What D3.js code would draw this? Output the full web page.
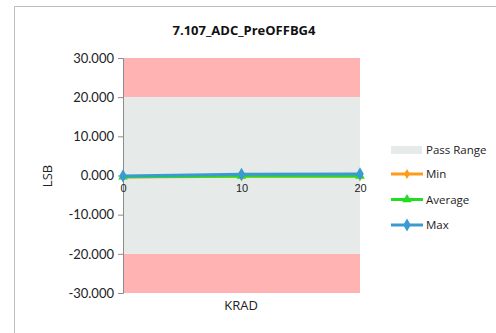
<!DOCTYPE html>
<html><head><meta charset="utf-8">
<script src="https://cdn.jsdelivr.net/npm/d3@7"></script>
<style>body{margin:0;background:#fff;}svg{display:block;font-family:"Open Sans","Liberation Sans",sans-serif;}</style>
</head><body>
<svg id="c" width="496" height="333"></svg>
<script>
const title = "7.107_ADC_PreOFFBG4";
const categories = ["0", "10", "20"];
const minValues = [-0.4, -0.2, -0.2];
const avgValues = [-0.3, -0.1, -0.1];
const maxValues = [-0.1, 0.3, 0.4];
const passRange = [-20, 20];
const failBands = [[20, 30], [-30, -20]];
const yTicks = [30, 20, 10, 0, -10, -20, -30];
const seriesNames = ["Min", "Average", "Max"];
const seriesColors = ["#FF9A1A", "#22DD22", "#3A9AD2"];

const svg = d3.select("#c");
svg.append("path").attr("d","M14.5,333 V6.5 H496").attr("fill","none").attr("stroke","#BDBDBD").attr("stroke-width",1);

const x = d3.scalePoint().domain(categories).range([123, 360]);
const y = d3.scaleLinear().domain([-30, 30]).range([293, 58]);

failBands.forEach(b => {
  svg.append("rect").attr("x",123).attr("width",237)
    .attr("y",y(b[1])).attr("height",y(b[0])-y(b[1])).attr("fill","#FFB3B3");
});
svg.append("rect").attr("x",123).attr("width",237)
  .attr("y",y(passRange[1])).attr("height",y(passRange[0])-y(passRange[1])).attr("fill","#E6EBEA");

const fmt = d3.format(".3f");
const yAxis = d3.axisLeft(y).tickValues(yTicks).tickSize(5).tickFormat(d => fmt(d).replace("\u2212","-"));
const gy = svg.append("g").attr("transform","translate(123,0)").call(yAxis);
gy.select(".domain").attr("stroke","#8C8C8C");
gy.selectAll(".tick line").attr("stroke","#8C8C8C");
gy.selectAll(".tick text").attr("font-size",13).attr("fill","#222").attr("x",-9).attr("font-family","Lato, 'Open Sans', sans-serif");

const xAxis = d3.axisBottom(x).tickSize(0);
const gx = svg.append("g").attr("transform",`translate(0,${y(0)})`).call(xAxis);
gx.select(".domain").remove();
gx.selectAll(".tick text").attr("font-size",11).attr("fill","#222").attr("dy","1.2em");

const allSeries = [minValues, avgValues, maxValues];
const line = d3.line().x((d,i)=>x(categories[i])).y(d=>y(d));
allSeries.forEach((vals, si) => {
  svg.append("path").datum(vals).attr("d",line).attr("fill","none")
    .attr("stroke",seriesColors[si]).attr("stroke-width",3);
});
function marker(g, si, cx, cy){
  if (si===1){
    g.append("path").attr("d",d3.symbol(d3.symbolTriangle,40)()).attr("transform",`translate(${cx},${cy})`).attr("fill",seriesColors[si]);
  } else {
    g.append("path").attr("d",d3.symbol(d3.symbolDiamond,si===2?50:30)()).attr("transform",`translate(${cx},${cy})`).attr("fill",seriesColors[si]);
  }
}
const mg = svg.append("g");
allSeries.forEach((vals, si) => {
  vals.forEach((v,i)=>marker(mg, si, x(categories[i]), y(v)));
});

svg.append("text").attr("x",244).attr("y",35).attr("text-anchor","middle").attr("font-size",13).attr("font-weight","bold").attr("fill","#111").text(title);
svg.append("text").attr("transform","translate(52,176) rotate(-90)").attr("text-anchor","middle").attr("font-size",13).attr("fill","#222").text("LSB");
svg.append("text").attr("x",241).attr("y",310).attr("text-anchor","middle").attr("font-size",13).attr("fill","#222").text("KRAD");

const lg = svg.append("g");
lg.append("rect").attr("x",391).attr("y",146).attr("width",31).attr("height",8).attr("fill","#E6EBEA");
lg.append("text").attr("x",426).attr("y",154).attr("font-size",11.5).attr("fill","#222").text("Pass Range");
seriesNames.forEach((n,i)=>{
  const ly = 174 + i*25.5;
  lg.append("line").attr("x1",391).attr("x2",423).attr("y1",ly).attr("y2",ly).attr("stroke",seriesColors[i]).attr("stroke-width",3);
  marker(lg, i, 407, ly);
  lg.append("text").attr("x",426).attr("y",ly+4).attr("font-size",11.5).attr("fill","#222").text(n);
});
</script>
</body></html>
